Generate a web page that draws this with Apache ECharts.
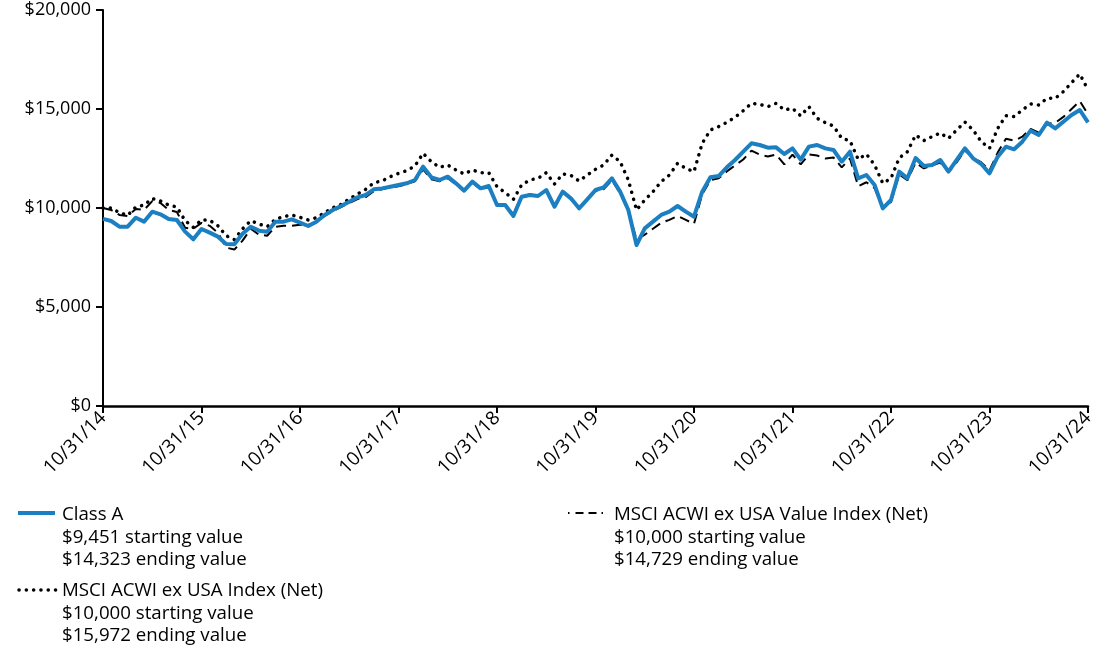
<!DOCTYPE html>
<html>
<head>
<meta charset="utf-8">
<script src="https://cdn.jsdelivr.net/npm/echarts@6/dist/echarts.min.js"></script>
<style>
html,body{margin:0;padding:0;background:#fff;}
#chart{width:1100px;height:653px;}
</style>
</head>
<body>
<div id="chart"></div>
<script>
// Tick labels on the x axis (one per year, 12 months apart)
var tickLabels = ['10/31/14','10/31/15','10/31/16','10/31/17','10/31/18','10/31/19','10/31/20','10/31/21','10/31/22','10/31/23','10/31/24'];

// Series names
var seriesNames = ['Class A', 'MSCI ACWI ex USA Index (Net)', 'MSCI ACWI ex USA Value Index (Net)'];

// Monthly values, 10/31/14 .. 10/31/24 (121 points)
var classA = [
9451, 9343, 9056, 9056, 9510, 9310, 9815, 9680, 9444, 9394,
8805, 8418, 8939, 8754, 8552, 8182, 8165, 8700, 9056, 8855,
8805, 9310, 9310, 9428, 9260, 9090, 9310, 9646, 9899, 10101,
10320, 10538, 10656, 10942, 10990, 11077, 11162, 11246, 11414, 12088,
11549, 11414, 11582, 11246, 10875, 11330, 10993, 11111, 10152, 10152,
9596, 10570, 10656, 10606, 10909, 10067, 10825, 10488, 9983, 10438,
10909, 11044, 11498, 10825, 9899, 8131, 8973, 9310, 9650, 9815,
10101, 9815, 9562, 10825, 11549, 11616, 12054, 12424, 12845, 13266,
13182, 13047, 13064, 12727, 13013, 12440, 13098, 13182, 13013, 12929,
12340, 12845, 11498, 11667, 11162, 9983, 10404, 11835, 11498, 12525,
12121, 12171, 12424, 11835, 12424, 13013, 12508, 12222, 11750, 12593,
13098, 12963, 13350, 13906, 13687, 14310, 14020, 14360, 14697, 14949,
14323
];

var acwi = [
10000, 10000, 9764, 9630, 10050, 10150, 10480, 10350, 10150, 10050,
9360, 9024, 9400, 9380, 9100, 8600, 8400, 8950, 9360, 9192,
9056, 9428, 9562, 9646, 9528, 9394, 9512, 9764, 10016, 10185,
10455, 10707, 10942, 11278, 11363, 11582, 11750, 11885, 12121, 12761,
12340, 12054, 12171, 11919, 11717, 11919, 11784, 11784, 11077, 10775,
10438, 11162, 11414, 11498, 11784, 11212, 11717, 11650, 11363, 11667,
11953, 12171, 12677, 12340, 11414, 9899, 10404, 10825, 11330, 11667,
12256, 12003, 11835, 13266, 13939, 14108, 14327, 14578, 14915, 15286,
15236, 15118, 15286, 14949, 15034, 14650, 15118, 14528, 14310, 14141,
13519, 13401, 12457, 12727, 12171, 11246, 11498, 12525, 12845, 13687,
13401, 13603, 13790, 13519, 13939, 14343, 13939, 13350, 13013, 14020,
14663, 14613, 14949, 15252, 15202, 15539, 15539, 15875, 16330, 16768,
15972
];

var acwiValue = [
10000, 9900, 9650, 9600, 9950, 9900, 10350, 10250, 9900, 9800,
9000, 8950, 9250, 9100, 8750, 8000, 7900, 8350, 8950, 8650,
8600, 9050, 9100, 9100, 9150, 9150, 9300, 9600, 9850, 10050,
10250, 10450, 10550, 10850, 10950, 11050, 11100, 11200, 11350, 11950,
11450, 11350, 11500, 11200, 10850, 11300, 10950, 11050, 10200, 10100,
9700, 10550, 10700, 10650, 10850, 10150, 10850, 10450, 10000, 10400,
10850, 10950, 11400, 10750, 9850, 8400, 8650, 8950, 9250, 9400,
9600, 9400, 9200, 10700, 11400, 11500, 11850, 12150, 12450, 12900,
12700, 12600, 12700, 12200, 12700, 12200, 12700, 12650, 12500, 12550,
12050, 12500, 11100, 11300, 11000, 10000, 10300, 11700, 11400, 12300,
12000, 12150, 12300, 11800, 12300, 12900, 12550, 12300, 11900, 12800,
13500, 13400, 13600, 14000, 13800, 14250, 14300, 14600, 15000, 15400,
14729
];

var BLUE = '#1b7fc2';
var FONT = '"Open Sans", "Noto Sans", sans-serif';

function toXY(arr){ return arr.map(function(v,i){ return [i, v]; }); }
function money(v){ return '$' + v.toLocaleString('en-US'); }

var chart = echarts.init(document.getElementById('chart'), null, {renderer:'canvas'});

var legendFont = '18.7px ' + FONT;
function legendTexts(x, y, name, arr){
  var out = [];
  var lines = [name, money(arr[0]) + ' starting value', money(arr[arr.length-1]) + ' ending value'];
  lines.forEach(function(t, k){
    out.push({type:'text', left:x, top:y + k*22.7 - 8, style:{text:t, font:legendFont, fill:'#000'}});
  });
  return out;
}

var graphics = [];
// Class A legend
graphics.push({type:'line', shape:{x1:18,y1:513,x2:55,y2:513}, style:{stroke:BLUE, lineWidth:4}});
graphics = graphics.concat(legendTexts(62, 513, seriesNames[0], classA));
// ACWI legend
graphics.push({type:'line', shape:{x1:19,y1:590,x2:56,y2:590}, style:{stroke:'#000', lineWidth:3.5, lineDash:[0.1,7.2], lineCap:'round'}});
graphics = graphics.concat(legendTexts(62, 589, seriesNames[1], acwi));
// ACWI Value legend
graphics.push({type:'line', shape:{x1:568,y1:513,x2:607,y2:513}, style:{stroke:'#000', lineWidth:2, lineDash:[1.5,6,8,5,8,5]}});
graphics = graphics.concat(legendTexts(614, 513, seriesNames[2], acwiValue));

chart.setOption({
  animation:false,
  backgroundColor:'#fff',
  grid:{left:103, right:12, top:10, bottom:247, containLabel:false},
  xAxis:{
    type:'value', min:0, max:120, interval:12,
    axisLine:{show:true, lineStyle:{color:'#000', width:2.5}},
    axisTick:{show:true, length:7, lineStyle:{color:'#000', width:2}},
    splitLine:{show:false},
    axisLabel:{
      rotate:45, margin:9, color:'#000', fontSize:19, fontFamily:FONT,
      formatter:function(v){ return tickLabels[Math.round(v/12)] || ''; }
    }
  },
  yAxis:{
    type:'value', min:0, max:20000, interval:5000,
    axisLine:{show:true, lineStyle:{color:'#000', width:2}},
    axisTick:{show:true, length:7, lineStyle:{color:'#000', width:2}},
    splitLine:{show:false},
    axisLabel:{color:'#000', fontSize:18, fontFamily:FONT, margin:12,
      formatter:function(v){ return money(v); }}
  },
  graphic: graphics,
  series:[
    {name:seriesNames[1], type:'line', data:toXY(acwi), showSymbol:false, symbol:'none', z:2,
     lineStyle:{color:'#000', width:3.5, type:[0.1,7.2], cap:'round', join:'round'}},
    {name:seriesNames[2], type:'line', data:toXY(acwiValue), showSymbol:false, symbol:'none', z:3,
     lineStyle:{color:'#000', width:2, type:[10,6]}},
    {name:seriesNames[0], type:'line', data:toXY(classA), showSymbol:false, symbol:'none', z:4,
     lineStyle:{color:BLUE, width:4, join:'round'}}
  ]
});
</script>
</body>
</html>
